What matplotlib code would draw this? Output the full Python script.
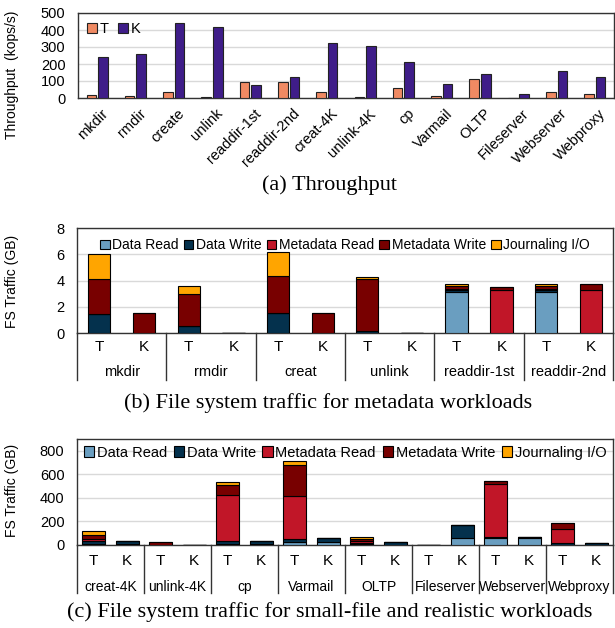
import numpy as np
import matplotlib
matplotlib.use("Agg")
import matplotlib.pyplot as plt
from matplotlib.patches import Patch
from matplotlib.transforms import blended_transform_factory

plt.rcParams['font.family'] = ['Liberation Sans', 'DejaVu Sans']

# ---------------- Data ----------------
# (a) Throughput
tp_workloads = ["mkdir", "rmdir", "create", "unlink", "readdir-1st", "readdir-2nd",
                "creat-4K", "unlink-4K", "cp", "Varmail", "OLTP", "Fileserver",
                "Webserver", "Webproxy"]
tp_T = [16, 10, 33, 5, 93, 93, 37, 5, 56, 10, 111, 0, 35, 23]
tp_K = [241, 257, 444, 420, 76, 123, 325, 305, 214, 82, 142, 21, 156, 126]

components = ["Data Read", "Data Write", "Metadata Read", "Metadata Write", "Journaling I/O"]
comp_colors = ["#6A9EC0", "#04314D", "#C11628", "#780000", "#FFA500"]

# (b) metadata workloads, bars ordered T,K per workload
meta_workloads = ["mkdir", "rmdir", "creat", "unlink", "readdir-1st", "readdir-2nd"]
meta_DR = [0, 0, 0, 0, 0, 0, 0, 0, 3.15, 0, 3.15, 0]
meta_DW = [1.47, 0, 0.53, 0, 1.52, 0, 0.18, 0, 0.12, 0, 0.12, 0]
meta_MR = [0, 0, 0, 0, 0, 0, 0, 0, 0.12, 3.27, 0.12, 3.30]
meta_MW = [2.67, 1.49, 2.44, 0.03, 2.79, 1.49, 3.91, 0.03, 0.20, 0.25, 0.20, 0.46]
meta_J = [1.86, 0, 0.63, 0, 1.83, 0, 0.20, 0, 0.13, 0, 0.13, 0]

# (c) small-file and realistic workloads
real_workloads = ["creat-4K", "unlink-4K", "cp", "Varmail", "OLTP", "Fileserver",
                  "Webserver", "Webproxy"]
real_DR = [10, 5, 0, 0, 10, 8, 23, 25, 8, 4, 0, 62, 58, 57, 0, 2]
real_DW = [28, 30, 3, 2, 28, 28, 31, 35, 12, 22, 0, 104, 7, 12, 14, 15]
real_MR = [12, 0, 0, 0, 390, 0, 365, 0, 12, 0, 0, 0, 450, 0, 124, 0]
real_MW = [35, 0, 23, 0, 80, 0, 261, 3, 16, 0, 0, 0, 28, 0, 51, 0]
real_J = [38, 0, 0, 0, 25, 0, 34, 0, 20, 0, 0, 0, 2, 0, 0, 0]

sub_labels = ["T", "K"]

# ---------------- Figure ----------------
W, H = 615, 628
fig = plt.figure(figsize=(W / 100, H / 100), dpi=100)


def rect(l, t, r, b):
    return [l / W, 1 - b / H, (r - l) / W, (b - t) / H]


axa = fig.add_axes(rect(78, 13, 614, 98))
axb = fig.add_axes(rect(77, 228, 613, 333))
axc = fig.add_axes(rect(77, 439, 613, 545))

grid_color = "#D9D9D9"
edge = "#222222"

# ---- (a)
x = np.arange(len(tp_workloads))
axa.bar(x - 0.15, tp_T, width=0.25, color="#F08A63", edgecolor=edge, linewidth=0.8, label="T", zorder=3)
axa.bar(x + 0.15, tp_K, width=0.25, color="#3F1D89", edgecolor=edge, linewidth=0.8, label="K", zorder=3)
axa.set_xlim(-0.5, len(tp_workloads) - 0.5)
axa.set_ylim(0, 500)
axa.set_yticks([0, 100, 200, 300, 400, 500])
axa.yaxis.grid(True, color=grid_color, linewidth=1, zorder=0)
axa.set_axisbelow(True)
axa.set_xticks(x + 0.1)
axa.set_xticklabels(tp_workloads, rotation=45, ha="right", rotation_mode="anchor", fontsize=10.5)
axa.tick_params(axis="both", length=0)
axa.tick_params(axis="y", labelsize=10.5, pad=9)
axa.tick_params(axis="x", pad=6)
axa.legend(loc="upper left", frameon=False, fontsize=10.5, handlelength=0.7, handleheight=0.7,
           handletextpad=0.2, columnspacing=0.6, ncol=2, borderaxespad=0.2,
           bbox_to_anchor=(0.0, 1.0))
for s in axa.spines.values():
    s.set_color("#333333")
    s.set_linewidth(1)
fig.text(12 / W, 1 - 75 / H, "Throughput  (kops/s)", rotation=90, ha="center", va="center", fontsize=10)


def stacked(ax, series, ngroups, width, ymax, yticks, groups, t_off, g_off, line_len, ax_h,
            leg_fs, leg_cs, leg_y, grp_fs):
    n = ngroups * 2
    xs = np.arange(n)
    bottom = np.zeros(n)
    for vals, name, col in zip(series, components, comp_colors):
        v = np.array(vals, dtype=float)
        ax.bar(xs, v, width=width, bottom=bottom, color=col, edgecolor="black",
               linewidth=0.8, zorder=3, label=name)
        bottom += v
    ax.set_xlim(-0.5, n - 0.5)
    ax.set_ylim(0, ymax)
    ax.set_yticks(yticks)
    ax.yaxis.grid(True, color=grid_color, linewidth=1, zorder=0)
    ax.set_axisbelow(True)
    ax.set_xticks([])
    ax.tick_params(axis="y", length=0, labelsize=10.5, pad=9)
    for s in ax.spines.values():
        s.set_color("#333333")
        s.set_linewidth(1)
    tr = blended_transform_factory(ax.transData, ax.transAxes)
    for i in range(n):
        ax.text(i, -t_off / ax_h, sub_labels[i % 2], transform=tr, ha="center", va="center", fontsize=11)
    for g in range(ngroups):
        ax.text(2 * g + 0.5, -g_off / ax_h, groups[g], transform=tr, ha="center", va="center", fontsize=grp_fs)
    for g in range(ngroups + 1):
        ax.plot([2 * g - 0.5, 2 * g - 0.5], [0, -line_len / ax_h], transform=tr, color="#333333",
                linewidth=1, clip_on=False)
    handles = [Patch(facecolor=c, edgecolor="black", linewidth=0.8) for c in comp_colors]
    ax.legend(handles, components, loc="upper center", ncol=5, frameon=False, fontsize=leg_fs,
              handlelength=0.7, handleheight=0.7, handletextpad=0.2, columnspacing=leg_cs,
              bbox_to_anchor=(0.5, leg_y), borderaxespad=0.2)


stacked(axb, [meta_DR, meta_DW, meta_MR, meta_MW, meta_J], len(meta_workloads), 0.5, 8,
        [0, 2, 4, 6, 8], meta_workloads, 14, 39, 47, 105, 10, 0.35, 0.98, 10.5)
fig.text(12 / W, 1 - 281 / H, "FS Traffic (GB)", rotation=90, ha="center", va="center", fontsize=10)

stacked(axc, [real_DR, real_DW, real_MR, real_MW, real_J], len(real_workloads), 0.7, 900,
        [0, 200, 400, 600, 800], real_workloads, 16, 42, 48, 106, 10.5, 0.45, 1.02, 10)
fig.text(12 / W, 1 - 490 / H, "FS Traffic (GB)", rotation=90, ha="center", va="center", fontsize=10)

cap_kw = dict(ha="center", va="center", fontsize=16, family=["Liberation Serif", "DejaVu Serif"])
fig.text(330 / W, 1 - 185 / H, "(a) Throughput", **cap_kw)
fig.text(328 / W, 1 - 403 / H, "(b) File system traffic for metadata workloads", **cap_kw)
fig.text(330 / W, 1 - 612 / H, "(c) File system traffic for small-file and realistic workloads", **cap_kw)

fig.savefig("out.png", dpi=100)
